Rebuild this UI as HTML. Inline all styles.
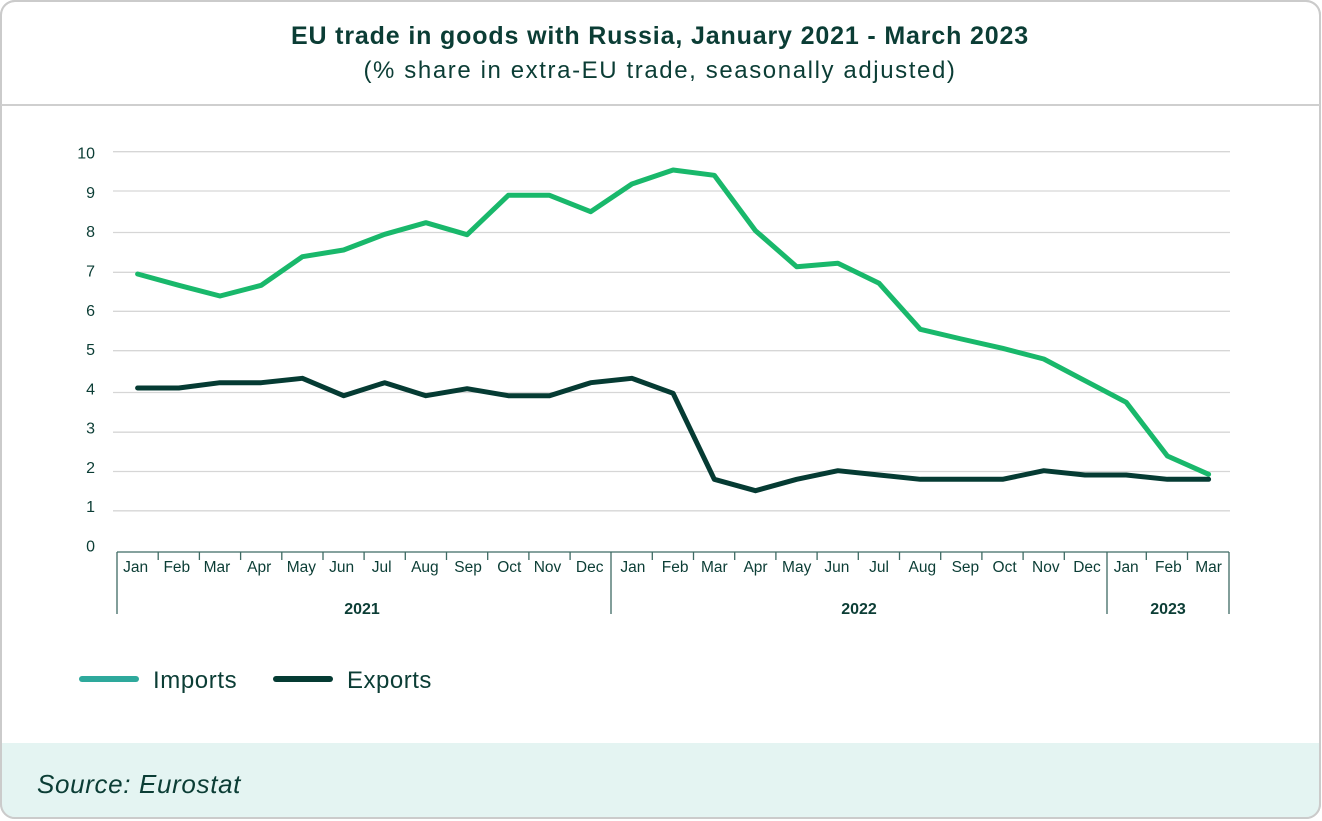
<!DOCTYPE html>
<html>
<head>
<meta charset="utf-8">
<style>
html,body{margin:0;padding:0;background:#fff;}
body{width:1322px;height:821px;overflow:hidden;}
svg{display:block;}
text{font-family:"Liberation Sans",Arial,sans-serif;fill:#0b3d35;}
</style>
</head>
<body>
<svg width="1322" height="821" viewBox="0 0 1322 821" xmlns="http://www.w3.org/2000/svg">
  <!-- card -->
  <rect x="1" y="1" width="1319" height="817" rx="14" ry="14" fill="#ffffff" stroke="#cbcbcb" stroke-width="2"/>
  <!-- footer -->
  <path d="M2 743 H1319 V804 Q1319 817 1306 817 H15 Q2 817 2 804 Z" fill="#e4f4f2"/>
  <rect x="1" y="1" width="1319" height="817" rx="14" ry="14" fill="none" stroke="#cbcbcb" stroke-width="2"/>
  <!-- header separator -->
  <line x1="1" y1="105" x2="1320" y2="105" stroke="#cfcfcf" stroke-width="2"/>

  <!-- titles -->
  <text x="660" y="44" text-anchor="middle" font-size="25" font-weight="bold" letter-spacing="0.85">EU trade in goods with Russia, January 2021 - March 2023</text>
  <text x="660" y="78" text-anchor="middle" font-size="24" letter-spacing="1.6">(% share in extra-EU trade, seasonally adjusted)</text>

  <!-- gridlines -->
  <g stroke="#d6d6d6" stroke-width="1.3">
    <line x1="113" y1="151.7" x2="1230" y2="151.7"/>
    <line x1="113" y1="191" x2="1230" y2="191"/>
    <line x1="113" y1="232.5" x2="1230" y2="232.5"/>
    <line x1="113" y1="272.3" x2="1230" y2="272.3"/>
    <line x1="113" y1="311.3" x2="1230" y2="311.3"/>
    <line x1="113" y1="350.7" x2="1230" y2="350.7"/>
    <line x1="113" y1="392.5" x2="1230" y2="392.5"/>
    <line x1="113" y1="432.2" x2="1230" y2="432.2"/>
    <line x1="113" y1="471.5" x2="1230" y2="471.5"/>
    <line x1="113" y1="510.8" x2="1230" y2="510.8"/>
  </g>

  <!-- y labels -->
  <g font-size="16" text-anchor="end">
    <text x="95" y="158.7">10</text>
    <text x="95" y="198">9</text>
    <text x="95" y="237.2">8</text>
    <text x="95" y="276.5">7</text>
    <text x="95" y="315.8">6</text>
    <text x="95" y="355">5</text>
    <text x="95" y="394.3">4</text>
    <text x="95" y="433.6">3</text>
    <text x="95" y="472.8">2</text>
    <text x="95" y="512.1">1</text>
    <text x="95" y="551.4">0</text>
  </g>

  <!-- x axis -->
  <g stroke="#3e6a63" stroke-width="1.3" fill="none">
    <line x1="117" y1="552" x2="1229" y2="552"/>
    <line x1="117" y1="552" x2="117" y2="614"/>
    <line x1="611" y1="552" x2="611" y2="614"/>
    <line x1="1107" y1="552" x2="1107" y2="614"/>
    <line x1="1229" y1="552" x2="1229" y2="614"/>
    <path d="M158.2 552V560 M199.4 552V560 M240.6 552V560 M281.8 552V560 M323 552V560 M364.1 552V560 M405.3 552V560 M446.5 552V560 M487.7 552V560 M528.9 552V560 M570.1 552V560 M652.3 552V560 M693.5 552V560 M734.7 552V560 M775.9 552V560 M817.1 552V560 M858.3 552V560 M899.5 552V560 M940.7 552V560 M981.9 552V560 M1023.1 552V560 M1064.3 552V560 M1146.3 552V560 M1187.5 552V560"/>
  </g>

  <!-- month labels -->
  <g font-size="15.5" text-anchor="middle">
    <text x="135.6" y="572">Jan</text>
    <text x="176.8" y="572">Feb</text>
    <text x="217" y="572">Mar</text>
    <text x="259.2" y="572">Apr</text>
    <text x="301.4" y="572">May</text>
    <text x="341.6" y="572">Jun</text>
    <text x="381.7" y="572">Jul</text>
    <text x="424.9" y="572">Aug</text>
    <text x="468.1" y="572">Sep</text>
    <text x="509.3" y="572">Oct</text>
    <text x="547.5" y="572">Nov</text>
    <text x="589.7" y="572">Dec</text>
    <text x="632.9" y="572">Jan</text>
    <text x="675.1" y="572">Feb</text>
    <text x="714.3" y="572">Mar</text>
    <text x="755.5" y="572">Apr</text>
    <text x="796.7" y="572">May</text>
    <text x="836.9" y="572">Jun</text>
    <text x="879.1" y="572">Jul</text>
    <text x="922.3" y="572">Aug</text>
    <text x="965.4" y="572">Sep</text>
    <text x="1004.6" y="572">Oct</text>
    <text x="1045.8" y="572">Nov</text>
    <text x="1087" y="572">Dec</text>
    <text x="1126.2" y="572">Jan</text>
    <text x="1168.4" y="572">Feb</text>
    <text x="1208.6" y="572">Mar</text>
  </g>
  <g font-size="16" font-weight="bold" text-anchor="middle">
    <text x="362" y="614">2021</text>
    <text x="859" y="614">2022</text>
    <text x="1168" y="614">2023</text>
  </g>

  <!-- series -->
  <polyline fill="none" stroke="#19b86b" stroke-width="5" stroke-linejoin="round" stroke-linecap="round"
    points="137.6,274 178.8,285.3 220,296 261.2,285.3 302.4,256.7 343.6,250 384.7,234.3 425.9,222.7 467.1,234.7 508.3,195.3 549.5,195.3 590.7,211.7 631.9,184 673.1,170 714.3,175.3 755.5,230.7 796.7,266.7 837.9,263.3 879.1,283.3 920.3,329.3 961.4,339 1002.6,348.3 1043.8,359 1085,380.7 1126.2,402.3 1167.4,456 1208.6,474.3"/>
  <polyline fill="none" stroke="#053b33" stroke-width="5" stroke-linejoin="round" stroke-linecap="round"
    points="137.6,388 178.8,388 220,382.7 261.2,382.7 302.4,378.3 343.6,395.7 384.7,382.7 425.9,395.7 467.1,388.7 508.3,395.7 549.5,395.7 590.7,382.7 631.9,378.3 673.1,393.3 714.3,479.3 755.5,490.7 796.7,479.3 837.9,470.7 879.1,475 920.3,479.3 961.4,479.3 1002.6,479.3 1043.8,470.7 1085,475 1126.2,475 1167.4,479.3 1208.6,479.3"/>

  <!-- legend -->
  <line x1="82" y1="679" x2="136" y2="679" stroke="#2ea99c" stroke-width="6" stroke-linecap="round"/>
  <text x="153" y="688" font-size="24" letter-spacing="0.6">Imports</text>
  <line x1="276" y1="679" x2="330" y2="679" stroke="#053b33" stroke-width="6" stroke-linecap="round"/>
  <text x="347" y="688" font-size="24" letter-spacing="0.5">Exports</text>

  <!-- source -->
  <text x="37" y="793" font-size="26" font-style="italic" letter-spacing="0.65">Source: Eurostat</text>
</svg>
</body>
</html>
